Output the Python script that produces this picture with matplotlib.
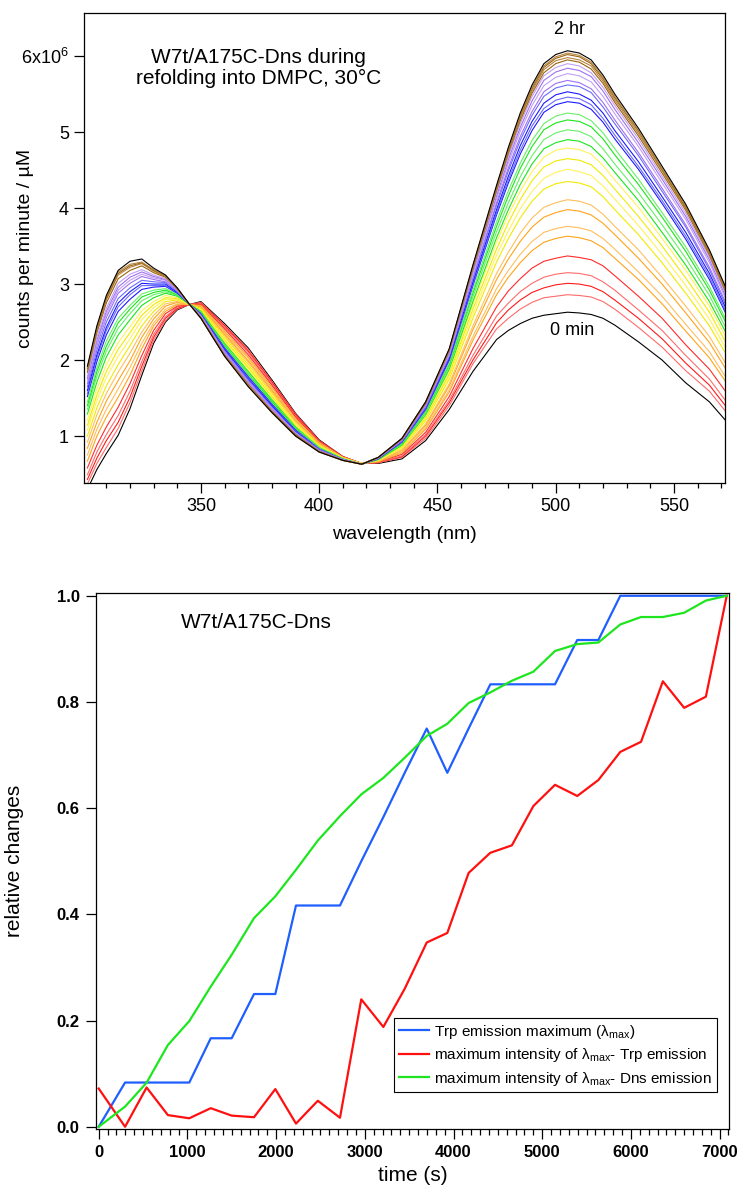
import matplotlib
matplotlib.use("Agg")
import matplotlib.pyplot as plt
from matplotlib.ticker import FixedLocator, MultipleLocator

plt.rcParams['font.family'] = ['Liberation Sans', 'DejaVu Sans']
plt.rcParams['mathtext.fontset'] = 'custom'
plt.rcParams['mathtext.rm'] = 'Liberation Sans'
plt.rcParams['mathtext.it'] = 'Liberation Sans:italic'
plt.rcParams['mathtext.default'] = 'regular'

# ---------------- top panel: emission spectra (units of 1e6 counts/min/uM) ----------------
wl_trp = [302, 306, 310, 315, 320, 325, 330, 335, 340, 345, 350, 360, 370, 380, 390, 400, 410, 418]
wl_dns = [425, 435, 445, 455, 465, 475, 480, 485, 490, 495, 500, 505, 510, 515, 520, 525, 535, 545, 555, 565, 572]

# one row per spectrum, 0 min (first) to 2 hr (last)
trp_spectra = [
    [0.30, 0.56, 0.77, 1.01, 1.36, 1.80, 2.22, 2.50, 2.66, 2.73, 2.77, 2.48, 2.16, 1.74, 1.30, 0.95, 0.73, 0.64],
    [0.37, 0.64, 0.85, 1.10, 1.44, 1.86, 2.26, 2.52, 2.67, 2.73, 2.76, 2.46, 2.14, 1.72, 1.29, 0.94, 0.73, 0.64],
    [0.43, 0.71, 0.94, 1.18, 1.51, 1.92, 2.30, 2.55, 2.68, 2.73, 2.75, 2.45, 2.12, 1.71, 1.28, 0.94, 0.73, 0.64],
    [0.49, 0.79, 1.02, 1.27, 1.59, 1.98, 2.34, 2.57, 2.70, 2.73, 2.74, 2.43, 2.10, 1.69, 1.26, 0.93, 0.72, 0.64],
    [0.58, 0.88, 1.12, 1.38, 1.69, 2.06, 2.39, 2.61, 2.71, 2.73, 2.73, 2.41, 2.07, 1.67, 1.25, 0.92, 0.72, 0.64],
    [0.67, 1.00, 1.25, 1.51, 1.80, 2.15, 2.45, 2.64, 2.73, 2.73, 2.72, 2.38, 2.04, 1.64, 1.23, 0.91, 0.72, 0.64],
    [0.75, 1.09, 1.35, 1.62, 1.90, 2.22, 2.49, 2.67, 2.74, 2.73, 2.71, 2.36, 2.02, 1.62, 1.22, 0.91, 0.72, 0.64],
    [0.84, 1.18, 1.46, 1.73, 1.99, 2.30, 2.54, 2.71, 2.76, 2.73, 2.70, 2.34, 1.99, 1.60, 1.20, 0.90, 0.71, 0.64],
    [0.92, 1.28, 1.56, 1.84, 2.09, 2.37, 2.59, 2.74, 2.77, 2.73, 2.69, 2.32, 1.97, 1.58, 1.19, 0.89, 0.71, 0.64],
    [1.00, 1.37, 1.66, 1.94, 2.19, 2.45, 2.64, 2.77, 2.79, 2.73, 2.68, 2.30, 1.94, 1.56, 1.17, 0.88, 0.71, 0.64],
    [1.08, 1.47, 1.77, 2.05, 2.28, 2.53, 2.69, 2.80, 2.80, 2.74, 2.66, 2.27, 1.92, 1.53, 1.16, 0.87, 0.71, 0.64],
    [1.14, 1.54, 1.85, 2.14, 2.36, 2.59, 2.73, 2.82, 2.81, 2.74, 2.66, 2.26, 1.90, 1.52, 1.14, 0.87, 0.70, 0.63],
    [1.21, 1.62, 1.94, 2.23, 2.44, 2.65, 2.77, 2.85, 2.82, 2.74, 2.65, 2.24, 1.87, 1.50, 1.13, 0.86, 0.70, 0.63],
    [1.29, 1.71, 2.04, 2.33, 2.53, 2.72, 2.82, 2.88, 2.84, 2.74, 2.64, 2.22, 1.85, 1.48, 1.12, 0.85, 0.70, 0.63],
    [1.35, 1.79, 2.12, 2.42, 2.61, 2.78, 2.86, 2.90, 2.85, 2.74, 2.63, 2.20, 1.83, 1.46, 1.11, 0.85, 0.70, 0.63],
    [1.40, 1.85, 2.18, 2.49, 2.67, 2.83, 2.89, 2.92, 2.86, 2.74, 2.62, 2.19, 1.81, 1.45, 1.10, 0.84, 0.70, 0.63],
    [1.45, 1.90, 2.25, 2.55, 2.72, 2.87, 2.92, 2.94, 2.87, 2.74, 2.61, 2.18, 1.80, 1.43, 1.09, 0.84, 0.69, 0.63],
    [1.52, 1.98, 2.33, 2.64, 2.80, 2.93, 2.96, 2.97, 2.88, 2.74, 2.61, 2.16, 1.78, 1.42, 1.08, 0.83, 0.69, 0.63],
    [1.56, 2.03, 2.39, 2.70, 2.86, 2.98, 2.98, 2.98, 2.89, 2.74, 2.60, 2.15, 1.76, 1.41, 1.07, 0.83, 0.69, 0.63],
    [1.60, 2.07, 2.43, 2.75, 2.90, 3.01, 3.00, 3.00, 2.89, 2.74, 2.59, 2.14, 1.75, 1.40, 1.06, 0.82, 0.69, 0.63],
    [1.65, 2.13, 2.50, 2.81, 2.95, 3.05, 3.03, 3.02, 2.90, 2.74, 2.59, 2.12, 1.74, 1.38, 1.05, 0.82, 0.69, 0.63],
    [1.69, 2.19, 2.56, 2.88, 3.01, 3.10, 3.06, 3.03, 2.91, 2.74, 2.58, 2.11, 1.72, 1.37, 1.04, 0.81, 0.69, 0.63],
    [1.73, 2.22, 2.60, 2.92, 3.05, 3.13, 3.08, 3.05, 2.92, 2.74, 2.58, 2.10, 1.71, 1.36, 1.04, 0.81, 0.69, 0.63],
    [1.76, 2.26, 2.64, 2.96, 3.09, 3.16, 3.10, 3.06, 2.92, 2.74, 2.57, 2.09, 1.70, 1.35, 1.03, 0.81, 0.69, 0.63],
    [1.79, 2.30, 2.68, 3.01, 3.13, 3.19, 3.12, 3.07, 2.93, 2.74, 2.57, 2.08, 1.69, 1.34, 1.02, 0.80, 0.68, 0.63],
    [1.84, 2.36, 2.75, 3.07, 3.18, 3.24, 3.15, 3.09, 2.94, 2.74, 2.56, 2.07, 1.68, 1.33, 1.02, 0.80, 0.68, 0.63],
    [1.87, 2.39, 2.79, 3.12, 3.22, 3.27, 3.17, 3.10, 2.94, 2.74, 2.56, 2.06, 1.67, 1.32, 1.01, 0.80, 0.68, 0.63],
    [1.89, 2.41, 2.81, 3.14, 3.24, 3.28, 3.18, 3.11, 2.94, 2.74, 2.55, 2.06, 1.66, 1.32, 1.01, 0.79, 0.68, 0.63],
    [1.90, 2.43, 2.83, 3.16, 3.26, 3.29, 3.19, 3.11, 2.95, 2.74, 2.55, 2.05, 1.66, 1.31, 1.00, 0.79, 0.68, 0.63],
    [1.92, 2.45, 2.85, 3.18, 3.30, 3.33, 3.21, 3.12, 2.95, 2.74, 2.55, 2.05, 1.65, 1.31, 1.00, 0.79, 0.68, 0.63],
]

dns_spectra = [
    [0.64, 0.70, 0.94, 1.35, 1.85, 2.27, 2.39, 2.48, 2.55, 2.59, 2.61, 2.63, 2.62, 2.60, 2.55, 2.46, 2.24, 2.00, 1.70, 1.45, 1.20],
    [0.65, 0.72, 0.97, 1.40, 1.95, 2.41, 2.55, 2.67, 2.76, 2.82, 2.84, 2.86, 2.85, 2.83, 2.77, 2.67, 2.43, 2.17, 1.86, 1.59, 1.32],
    [0.65, 0.73, 1.00, 1.44, 2.00, 2.49, 2.66, 2.79, 2.89, 2.95, 2.99, 3.01, 3.00, 2.97, 2.90, 2.79, 2.55, 2.28, 1.96, 1.67, 1.39],
    [0.65, 0.74, 1.02, 1.47, 2.06, 2.58, 2.75, 2.90, 3.01, 3.09, 3.13, 3.15, 3.14, 3.11, 3.03, 2.92, 2.66, 2.39, 2.06, 1.75, 1.46],
    [0.66, 0.76, 1.05, 1.52, 2.15, 2.70, 2.91, 3.07, 3.21, 3.30, 3.34, 3.37, 3.35, 3.32, 3.24, 3.11, 2.84, 2.55, 2.20, 1.88, 1.58],
    [0.66, 0.78, 1.09, 1.58, 2.26, 2.86, 3.09, 3.28, 3.44, 3.55, 3.60, 3.63, 3.61, 3.57, 3.48, 3.34, 3.06, 2.74, 2.38, 2.03, 1.71],
    [0.67, 0.79, 1.11, 1.61, 2.31, 2.94, 3.18, 3.39, 3.56, 3.68, 3.73, 3.76, 3.74, 3.70, 3.60, 3.46, 3.16, 2.84, 2.47, 2.11, 1.77],
    [0.67, 0.81, 1.14, 1.66, 2.40, 3.06, 3.33, 3.56, 3.75, 3.88, 3.94, 3.98, 3.96, 3.91, 3.80, 3.65, 3.34, 3.00, 2.62, 2.23, 1.88],
    [0.67, 0.82, 1.16, 1.69, 2.45, 3.14, 3.42, 3.67, 3.87, 4.01, 4.07, 4.11, 4.09, 4.04, 3.92, 3.76, 3.45, 3.09, 2.71, 2.31, 1.95],
    [0.68, 0.84, 1.20, 1.75, 2.55, 3.29, 3.60, 3.87, 4.09, 4.25, 4.32, 4.35, 4.33, 4.28, 4.15, 3.98, 3.65, 3.28, 2.88, 2.45, 2.08],
    [0.68, 0.85, 1.22, 1.79, 2.61, 3.38, 3.70, 3.99, 4.22, 4.39, 4.47, 4.51, 4.48, 4.43, 4.29, 4.12, 3.77, 3.39, 2.98, 2.54, 2.15],
    [0.69, 0.86, 1.24, 1.82, 2.67, 3.46, 3.81, 4.11, 4.36, 4.54, 4.62, 4.65, 4.63, 4.57, 4.43, 4.25, 3.89, 3.50, 3.08, 2.63, 2.23],
    [0.69, 0.87, 1.26, 1.85, 2.73, 3.55, 3.91, 4.22, 4.48, 4.67, 4.76, 4.79, 4.77, 4.71, 4.56, 4.37, 4.01, 3.60, 3.18, 2.71, 2.30],
    [0.69, 0.88, 1.28, 1.88, 2.77, 3.61, 3.98, 4.31, 4.58, 4.78, 4.86, 4.90, 4.88, 4.81, 4.66, 4.47, 4.10, 3.68, 3.25, 2.77, 2.36],
    [0.70, 0.89, 1.30, 1.91, 2.83, 3.69, 4.07, 4.41, 4.69, 4.90, 4.99, 5.03, 5.01, 4.94, 4.78, 4.58, 4.20, 3.78, 3.34, 2.85, 2.42],
    [0.70, 0.90, 1.32, 1.94, 2.88, 3.76, 4.16, 4.52, 4.81, 5.03, 5.12, 5.16, 5.14, 5.07, 4.91, 4.70, 4.31, 3.88, 3.43, 2.92, 2.49],
    [0.70, 0.91, 1.33, 1.96, 2.92, 3.82, 4.23, 4.59, 4.89, 5.11, 5.21, 5.25, 5.23, 5.15, 4.99, 4.78, 4.38, 3.94, 3.49, 2.97, 2.53],
    [0.70, 0.92, 1.35, 2.00, 2.98, 3.91, 4.33, 4.71, 5.02, 5.26, 5.36, 5.40, 5.38, 5.30, 5.13, 4.91, 4.51, 4.06, 3.59, 3.06, 2.61],
    [0.71, 0.92, 1.36, 2.01, 3.00, 3.94, 4.37, 4.76, 5.08, 5.31, 5.42, 5.46, 5.44, 5.36, 5.18, 4.96, 4.55, 4.10, 3.63, 3.10, 2.64],
    [0.71, 0.93, 1.37, 2.02, 3.03, 3.98, 4.42, 4.82, 5.14, 5.38, 5.49, 5.53, 5.50, 5.42, 5.25, 5.02, 4.61, 4.15, 3.68, 3.14, 2.68],
    [0.71, 0.94, 1.38, 2.05, 3.07, 4.04, 4.49, 4.89, 5.22, 5.47, 5.58, 5.62, 5.60, 5.52, 5.33, 5.11, 4.69, 4.22, 3.75, 3.19, 2.72],
    [0.71, 0.94, 1.39, 2.06, 3.09, 4.07, 4.53, 4.94, 5.27, 5.53, 5.64, 5.68, 5.65, 5.57, 5.39, 5.16, 4.73, 4.26, 3.78, 3.22, 2.75],
    [0.71, 0.95, 1.41, 2.08, 3.13, 4.12, 4.59, 5.01, 5.35, 5.61, 5.72, 5.77, 5.74, 5.66, 5.47, 5.24, 4.81, 4.33, 3.85, 3.28, 2.80],
    [0.72, 0.95, 1.42, 2.10, 3.16, 4.16, 4.64, 5.06, 5.41, 5.68, 5.79, 5.84, 5.81, 5.73, 5.54, 5.30, 4.86, 4.38, 3.89, 3.32, 2.83],
    [0.72, 0.96, 1.43, 2.11, 3.18, 4.20, 4.68, 5.11, 5.47, 5.74, 5.85, 5.90, 5.87, 5.78, 5.59, 5.35, 4.91, 4.42, 3.93, 3.35, 2.86],
    [0.72, 0.96, 1.43, 2.12, 3.20, 4.23, 4.72, 5.15, 5.51, 5.78, 5.90, 5.95, 5.92, 5.83, 5.64, 5.39, 4.95, 4.46, 3.97, 3.38, 2.89],
    [0.72, 0.96, 1.44, 2.13, 3.22, 4.25, 4.74, 5.18, 5.54, 5.82, 5.94, 5.98, 5.95, 5.87, 5.67, 5.42, 4.98, 4.49, 3.99, 3.40, 2.91],
    [0.72, 0.97, 1.44, 2.14, 3.23, 4.27, 4.76, 5.21, 5.57, 5.85, 5.97, 6.02, 5.99, 5.90, 5.70, 5.45, 5.01, 4.51, 4.01, 3.42, 2.92],
    [0.72, 0.97, 1.45, 2.14, 3.24, 4.28, 4.78, 5.22, 5.59, 5.87, 5.99, 6.04, 6.01, 5.92, 5.72, 5.47, 5.02, 4.52, 4.03, 3.43, 2.93],
    [0.72, 0.97, 1.45, 2.15, 3.25, 4.30, 4.80, 5.25, 5.62, 5.90, 6.02, 6.07, 6.04, 5.95, 5.75, 5.50, 5.05, 4.55, 4.05, 3.45, 2.95],
]

spectrum_colors = (
    ['black']
    + ['#ff6b6b', '#ff1a1a', '#ff6b6b', '#ff2a2a']
    + ['#ffa31a', '#ffbe5c', '#ffa31a', '#ffbe5c']
    + ['#f2ea00', '#fff25a', '#f2ea00', '#fff25a']
    + ['#19e619', '#66f066', '#19e619', '#66f066']
    + ['#1a1aff', '#6a6aff', '#1a1aff', '#6a6aff']
    + ['#a070f0', '#c0a0f8', '#a070f0', '#c0a0f8']
    + ['#9a6410', '#b8843c', '#9a6410', '#b8843c']
    + ['black']
)

# ---------------- bottom panel: relative changes vs time ----------------
time_s = [0, 297, 540, 780, 1021, 1263, 1499, 1751, 1991, 2224, 2470, 2720, 2960, 3209, 3450,
          3698, 3930, 4170, 4415, 4658, 4900, 5144, 5395, 5633, 5880, 6114, 6360, 6600, 6845, 7080]
trp_lambda_max = [0, 0.0833, 0.0833, 0.0833, 0.0833, 0.1667, 0.1667, 0.25, 0.25, 0.4167, 0.4167, 0.4167,
                  0.5, 0.5833, 0.6667, 0.75, 0.6667, 0.75, 0.8333, 0.8333, 0.8333, 0.8333, 0.9167, 0.9167,
                  1.0, 1.0, 1.0, 1.0, 1.0, 1.0]
trp_max_intensity = [0.072, 0.0, 0.074, 0.022, 0.016, 0.035, 0.021, 0.018, 0.071, 0.006, 0.049, 0.017,
                     0.240, 0.188, 0.260, 0.347, 0.365, 0.478, 0.516, 0.530, 0.604, 0.644, 0.623, 0.653,
                     0.706, 0.725, 0.839, 0.789, 0.810, 1.0]
dns_max_intensity = [0.0, 0.038, 0.083, 0.154, 0.199, 0.264, 0.324, 0.393, 0.434, 0.484, 0.539, 0.585,
                     0.626, 0.657, 0.695, 0.736, 0.759, 0.798, 0.818, 0.840, 0.857, 0.896, 0.909, 0.912,
                     0.946, 0.960, 0.960, 0.968, 0.991, 1.0]
legend_labels = [r'Trp emission maximum ($\lambda_{max}$)',
                 r'maximum intensity of $\lambda_{max}$- Trp emission',
                 r'maximum intensity of $\lambda_{max}$- Dns emission']
line_colors = ['#1f5fff', '#ff1010', '#1ee61e']

fig = plt.figure(figsize=(7.43, 11.93), dpi=100)

# ---- top panel ----
ax1 = fig.add_axes([0.1135, 0.5951, 0.8623, 0.3937])
for trp, dns, col in zip(trp_spectra, dns_spectra, spectrum_colors):
    ax1.plot(wl_trp + wl_dns, trp + dns, color=col, lw=0.8)

ax1.set_xlim(300.7, 571.6)
ax1.set_ylim(0.382, 6.562)
ax1.xaxis.set_major_locator(FixedLocator([350, 400, 450, 500, 550]))
ax1.xaxis.set_minor_locator(MultipleLocator(10))
ax1.yaxis.set_major_locator(FixedLocator([1, 2, 3, 4, 5, 6]))
ax1.set_yticklabels(['1', '2', '3', '4', '5', r'6x10$^{6}$'])
ax1.tick_params(which='major', direction='out', length=7, width=0.9, labelsize=13, pad=4)
ax1.tick_params(which='minor', direction='out', length=3.5, width=0.9)
ax1.tick_params(top=False, right=False)
for s in ax1.spines.values():
    s.set_linewidth(0.9)
ax1.set_xlabel('wavelength (nm)', fontsize=14)
ax1.set_ylabel('counts per minute / µM', fontsize=14)
ax1.xaxis.set_label_coords(0.5, -0.092)
ax1.yaxis.set_label_coords(-0.079, 0.5)
ax1.text(374.5, 5.84, 'W7t/A175C-Dns during\nrefolding into DMPC, 30°C',
         ha='center', va='center', fontsize=15, linespacing=1.1)
ax1.text(506, 6.35, '2 hr', ha='center', va='center', fontsize=13)
ax1.text(507, 2.39, '0 min', ha='center', va='center', fontsize=13)

# ---- bottom panel ----
ax2 = fig.add_axes([0.1288, 0.0536, 0.8524, 0.4490])
for ys, col, lab in zip([trp_lambda_max, trp_max_intensity, dns_max_intensity], line_colors, legend_labels):
    ax2.plot(time_s, ys, color=col, lw=1.6, label=lab)

ax2.set_xlim(-34, 7106)
ax2.set_ylim(-0.0043, 1.0045)
ax2.xaxis.set_major_locator(MultipleLocator(1000))
ax2.xaxis.set_minor_locator(MultipleLocator(100))
ax2.yaxis.set_major_locator(MultipleLocator(0.2))
ax2.yaxis.set_major_formatter(plt.FormatStrFormatter('%.1f'))
ax2.tick_params(which='major', direction='out', length=7.5, width=0.9, labelsize=12, pad=4)
ax2.tick_params(which='minor', direction='out', length=4, width=0.9)
ax2.tick_params(top=False, right=False)
for lab in ax2.get_xticklabels() + ax2.get_yticklabels():
    lab.set_fontweight('bold')
for s in ax2.spines.values():
    s.set_linewidth(0.9)
ax2.set_xlabel('time (s)', fontsize=15, labelpad=4)
ax2.set_ylabel('relative changes', fontsize=15)
ax2.yaxis.set_label_coords(-0.113, 0.5)
ax2.text(0.253, 0.945, 'W7t/A175C-Dns', transform=ax2.transAxes,
         ha='center', va='center', fontsize=15)
leg = ax2.legend(loc='lower left', bbox_to_anchor=(0.471, 0.069), borderaxespad=0,
                 fontsize=11, frameon=True, fancybox=False, edgecolor='black',
                 framealpha=1, handlelength=2.0, handletextpad=0.35, borderpad=0.3,
                 labelspacing=0.35)
leg.get_frame().set_linewidth(0.8)

fig.savefig('out.png', dpi=100)
